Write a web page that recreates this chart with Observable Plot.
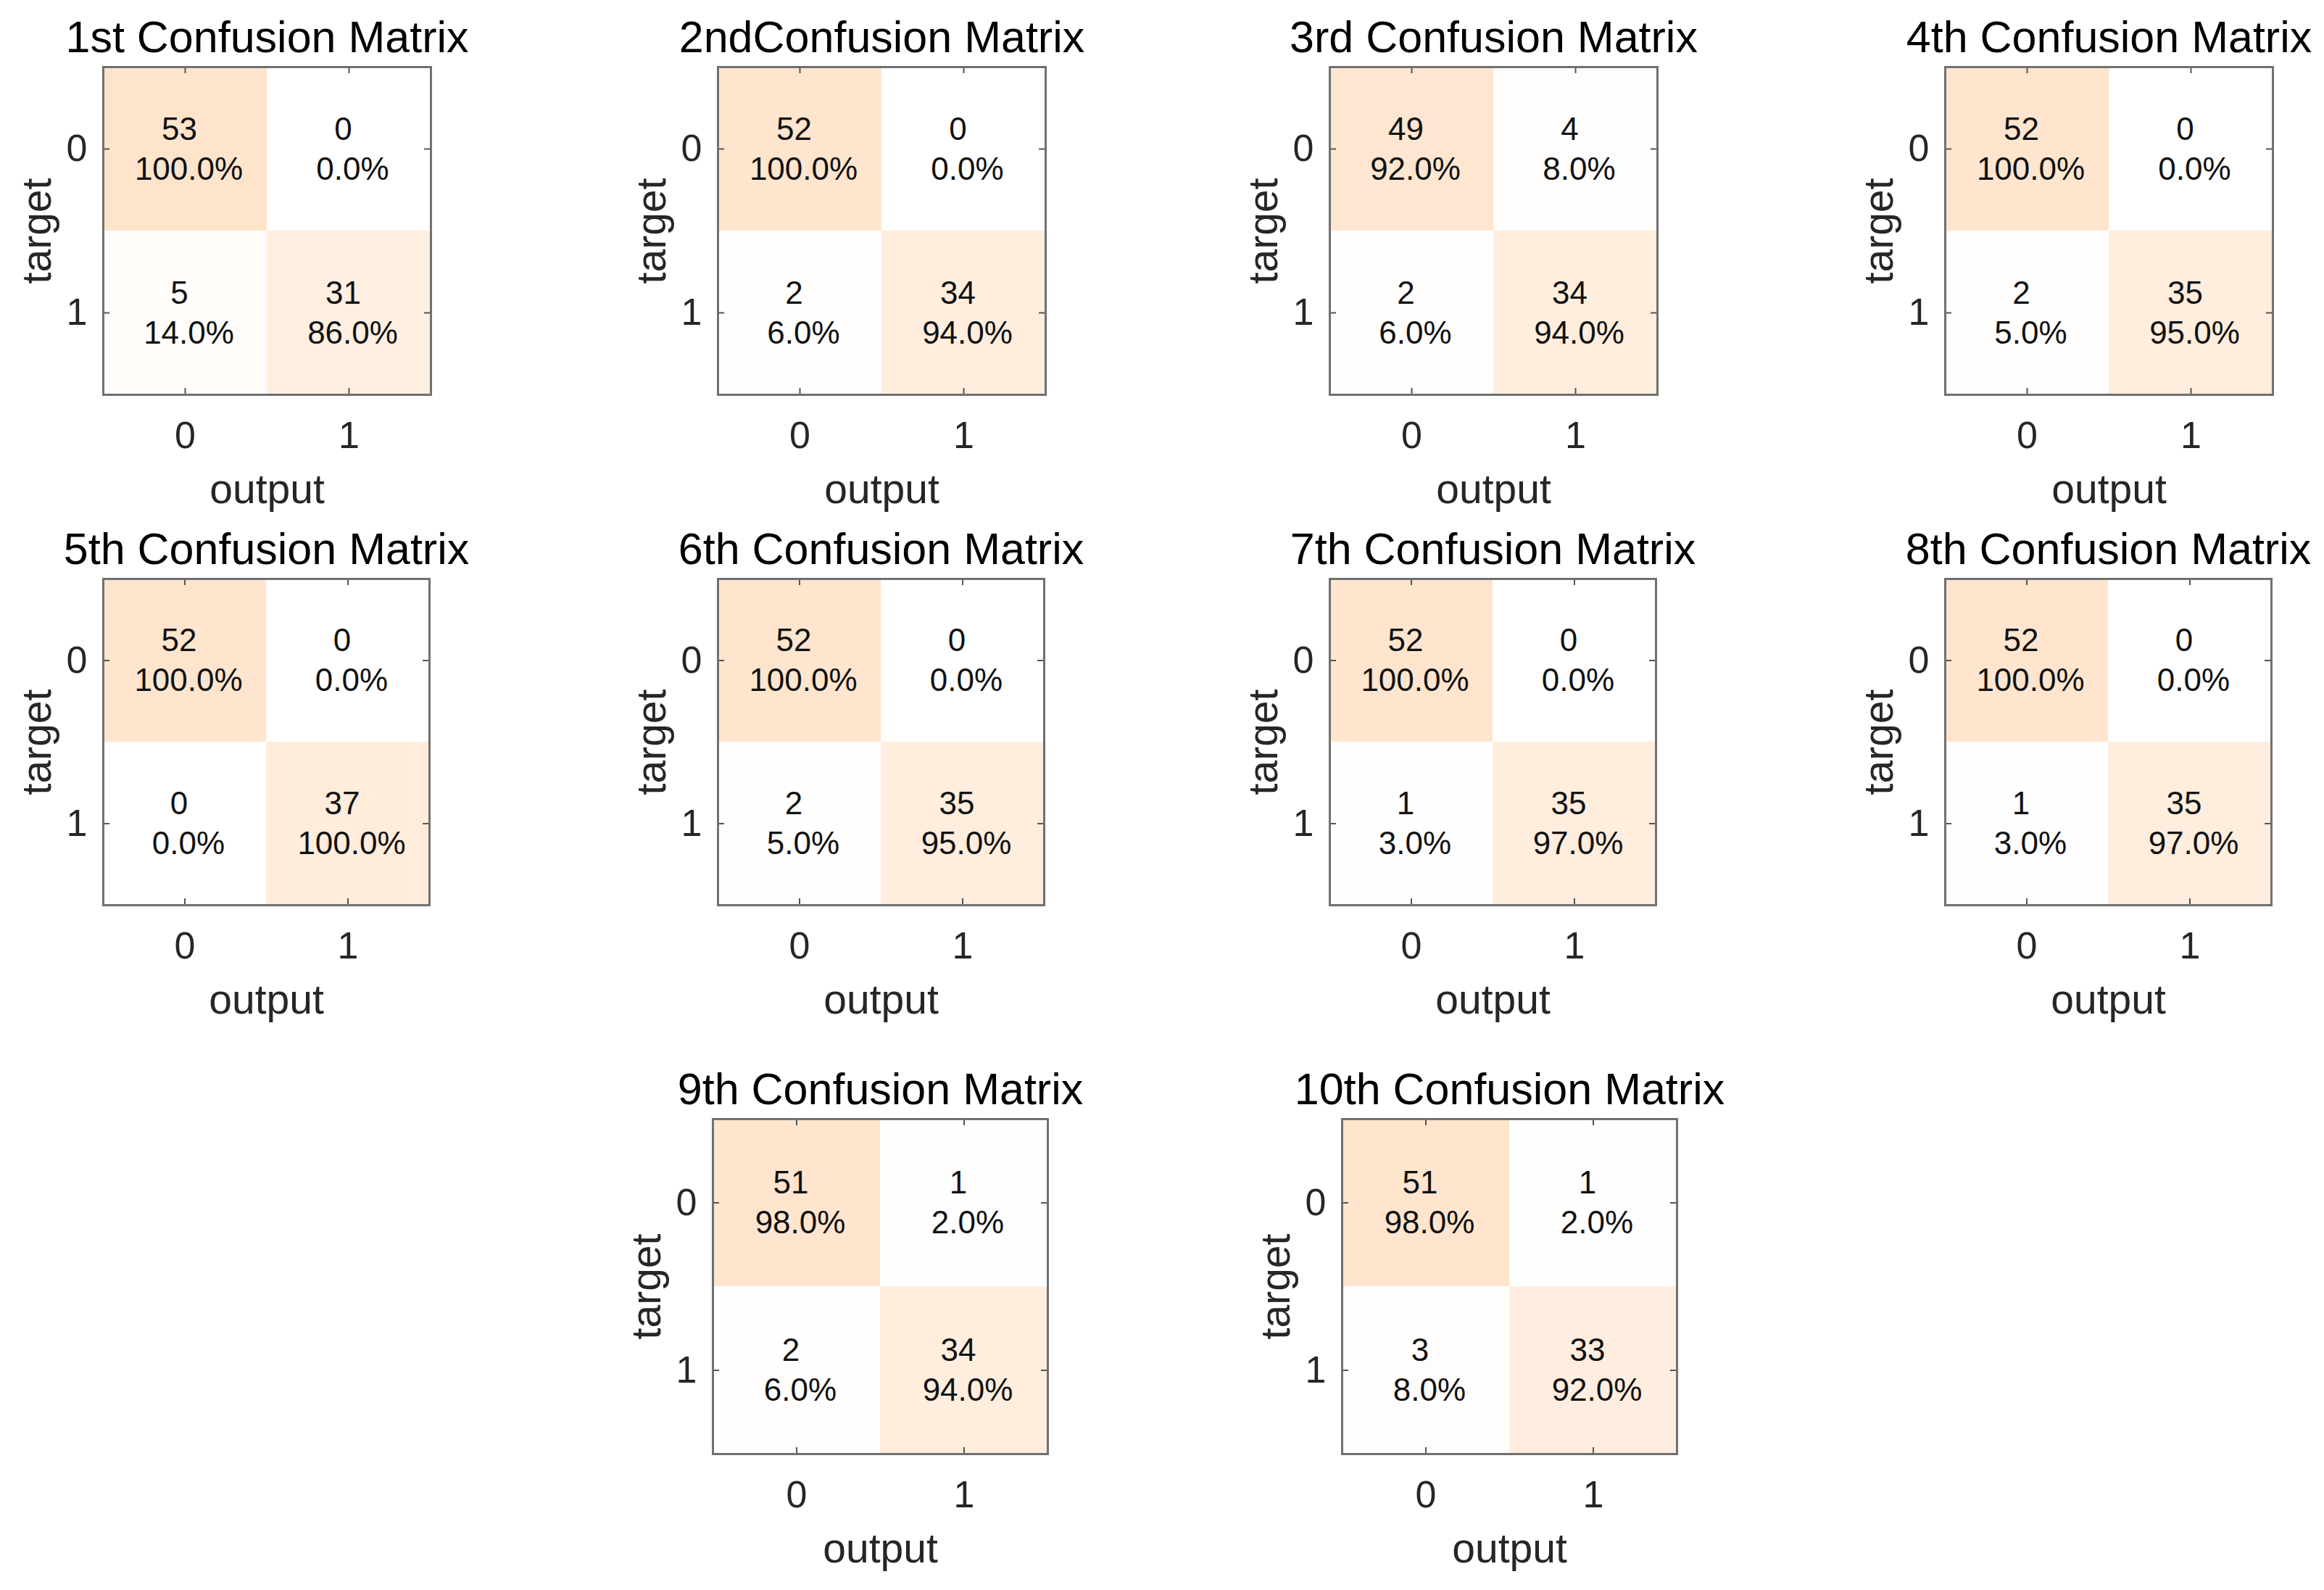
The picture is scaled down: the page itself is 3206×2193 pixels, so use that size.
<!DOCTYPE html>
<html>
<head>
<meta charset="utf-8">
<script src="https://cdn.jsdelivr.net/npm/d3@7"></script>
<script src="https://cdn.jsdelivr.net/npm/@observablehq/plot@0.6"></script>
<style>
  html, body { margin: 0; padding: 0; background: #fff; }
  #chart { position: relative; width: 3206px; height: 2193px; overflow: hidden; background: #fff; }
</style>
</head>
<body>
<div id="chart"></div>
<script>
// ---- data ----
const titles = [
  "1st Confusion Matrix", "2ndConfusion Matrix", "3rd Confusion Matrix", "4th Confusion Matrix",
  "5th Confusion Matrix", "6th Confusion Matrix", "7th Confusion Matrix", "8th Confusion Matrix",
  "9th Confusion Matrix", "10th Confusion Matrix"
];
const classLabels = ["0", "1"];
const xAxisLabel = "output";
const yAxisLabel = "target";
// counts per matrix: [t0->o0, t0->o1, t1->o0, t1->o1]
const counts = [
  [53, 0, 5, 31],
  [52, 0, 2, 34],
  [49, 4, 2, 34],
  [52, 0, 2, 35],
  [52, 0, 0, 37],
  [52, 0, 2, 35],
  [52, 0, 1, 35],
  [52, 0, 1, 35],
  [51, 1, 2, 34],
  [51, 1, 3, 33]
];
// row percentages per matrix, same order
const percents = [
  [100.0, 0.0, 14.0, 86.0],
  [100.0, 0.0, 6.0, 94.0],
  [92.0, 8.0, 6.0, 94.0],
  [100.0, 0.0, 5.0, 95.0],
  [100.0, 0.0, 0.0, 100.0],
  [100.0, 0.0, 5.0, 95.0],
  [100.0, 0.0, 3.0, 97.0],
  [100.0, 0.0, 3.0, 97.0],
  [98.0, 2.0, 6.0, 94.0],
  [98.0, 2.0, 8.0, 92.0]
];

// ---- layout (plot-area box positions in page pixels) ----
const boxes = [
  {x: 142, y: 92, s: 452}, {x: 990, y: 92, s: 452}, {x: 1834, y: 92, s: 452}, {x: 2683, y: 92, s: 452},
  {x: 142, y: 798, s: 450}, {x: 990, y: 798, s: 450}, {x: 1834, y: 798, s: 450}, {x: 2683, y: 798, s: 450},
  {x: 983, y: 1543, s: 462}, {x: 1851, y: 1543, s: 462}
];

const font = "'Liberation Sans', Arial, Helvetica, sans-serif";
const maxCount = d3.max(counts.flat());
const chart = document.getElementById("chart");

titles.forEach((title, i) => {
  const b = boxes[i];
  const mL = 150, mT = 100, mR = 70, mB = 170;
  const cells = [];
  classLabels.forEach((t, r) => classLabels.forEach((o, c) => {
    cells.push({target: t, output: o, count: counts[i][r * 2 + c], pct: percents[i][r * 2 + c]});
  }));
  const tick = 9;
  const svg = Plot.plot({
    width: b.s + mL + mR,
    height: b.s + mT + mB,
    marginLeft: mL, marginRight: mR, marginTop: mT, marginBottom: mB,
    style: {fontFamily: font, background: "transparent", overflow: "visible"},
    x: {type: "band", domain: classLabels, padding: 0},
    y: {type: "band", domain: classLabels, padding: 0},
    color: {type: "linear", domain: [0, maxCount], range: ["#ffffff", "#ffe4cc"]},
    marks: [
      Plot.cell(cells, {x: "output", y: "target", fill: "count", inset: 0}),
      Plot.ruleX(classLabels, {x: d => d, insetBottom: b.s - tick, stroke: "#555", strokeWidth: 2}),
      Plot.ruleX(classLabels, {x: d => d, insetTop: b.s - tick, stroke: "#555", strokeWidth: 2}),
      Plot.ruleY(classLabels, {y: d => d, insetRight: b.s - tick, stroke: "#555", strokeWidth: 2}),
      Plot.ruleY(classLabels, {y: d => d, insetLeft: b.s - tick, stroke: "#555", strokeWidth: 2}),
      Plot.frame({stroke: "#707070", strokeWidth: 3}),
      Plot.text(cells, {x: "output", y: "target", text: d => String(d.count), dy: -27, dx: -8, fontSize: 44, fill: "#111"}),
      Plot.text(cells, {x: "output", y: "target", text: d => d.pct.toFixed(1) + "%", dy: 28, dx: 5, fontSize: 44, fill: "#111"}),
      Plot.axisX({anchor: "bottom", tickSize: 0, tickPadding: 37, fontSize: 52, color: "#262626", label: null}),
      Plot.axisY({anchor: "left", tickSize: 0, tickPadding: 22, fontSize: 52, color: "#262626", label: null}),
      Plot.text([xAxisLabel], {text: d => d, frameAnchor: "bottom", dy: 131, lineAnchor: "middle", textAnchor: "middle", fontSize: 57, fill: "#262626"}),
      Plot.text([yAxisLabel], {text: d => d, frameAnchor: "left", dx: -91, rotate: -90, lineAnchor: "middle", textAnchor: "middle", fontSize: 57, fill: "#262626"}),
      Plot.text([title], {text: d => d, frameAnchor: "top", dy: -21, lineAnchor: "bottom", textAnchor: "middle", fontSize: 61, fill: "#000"})
    ]
  });
  svg.style.position = "absolute";
  svg.style.left = (b.x - mL) + "px";
  svg.style.top = (b.y - mT) + "px";
  chart.appendChild(svg);
});
</script>
</body>
</html>
